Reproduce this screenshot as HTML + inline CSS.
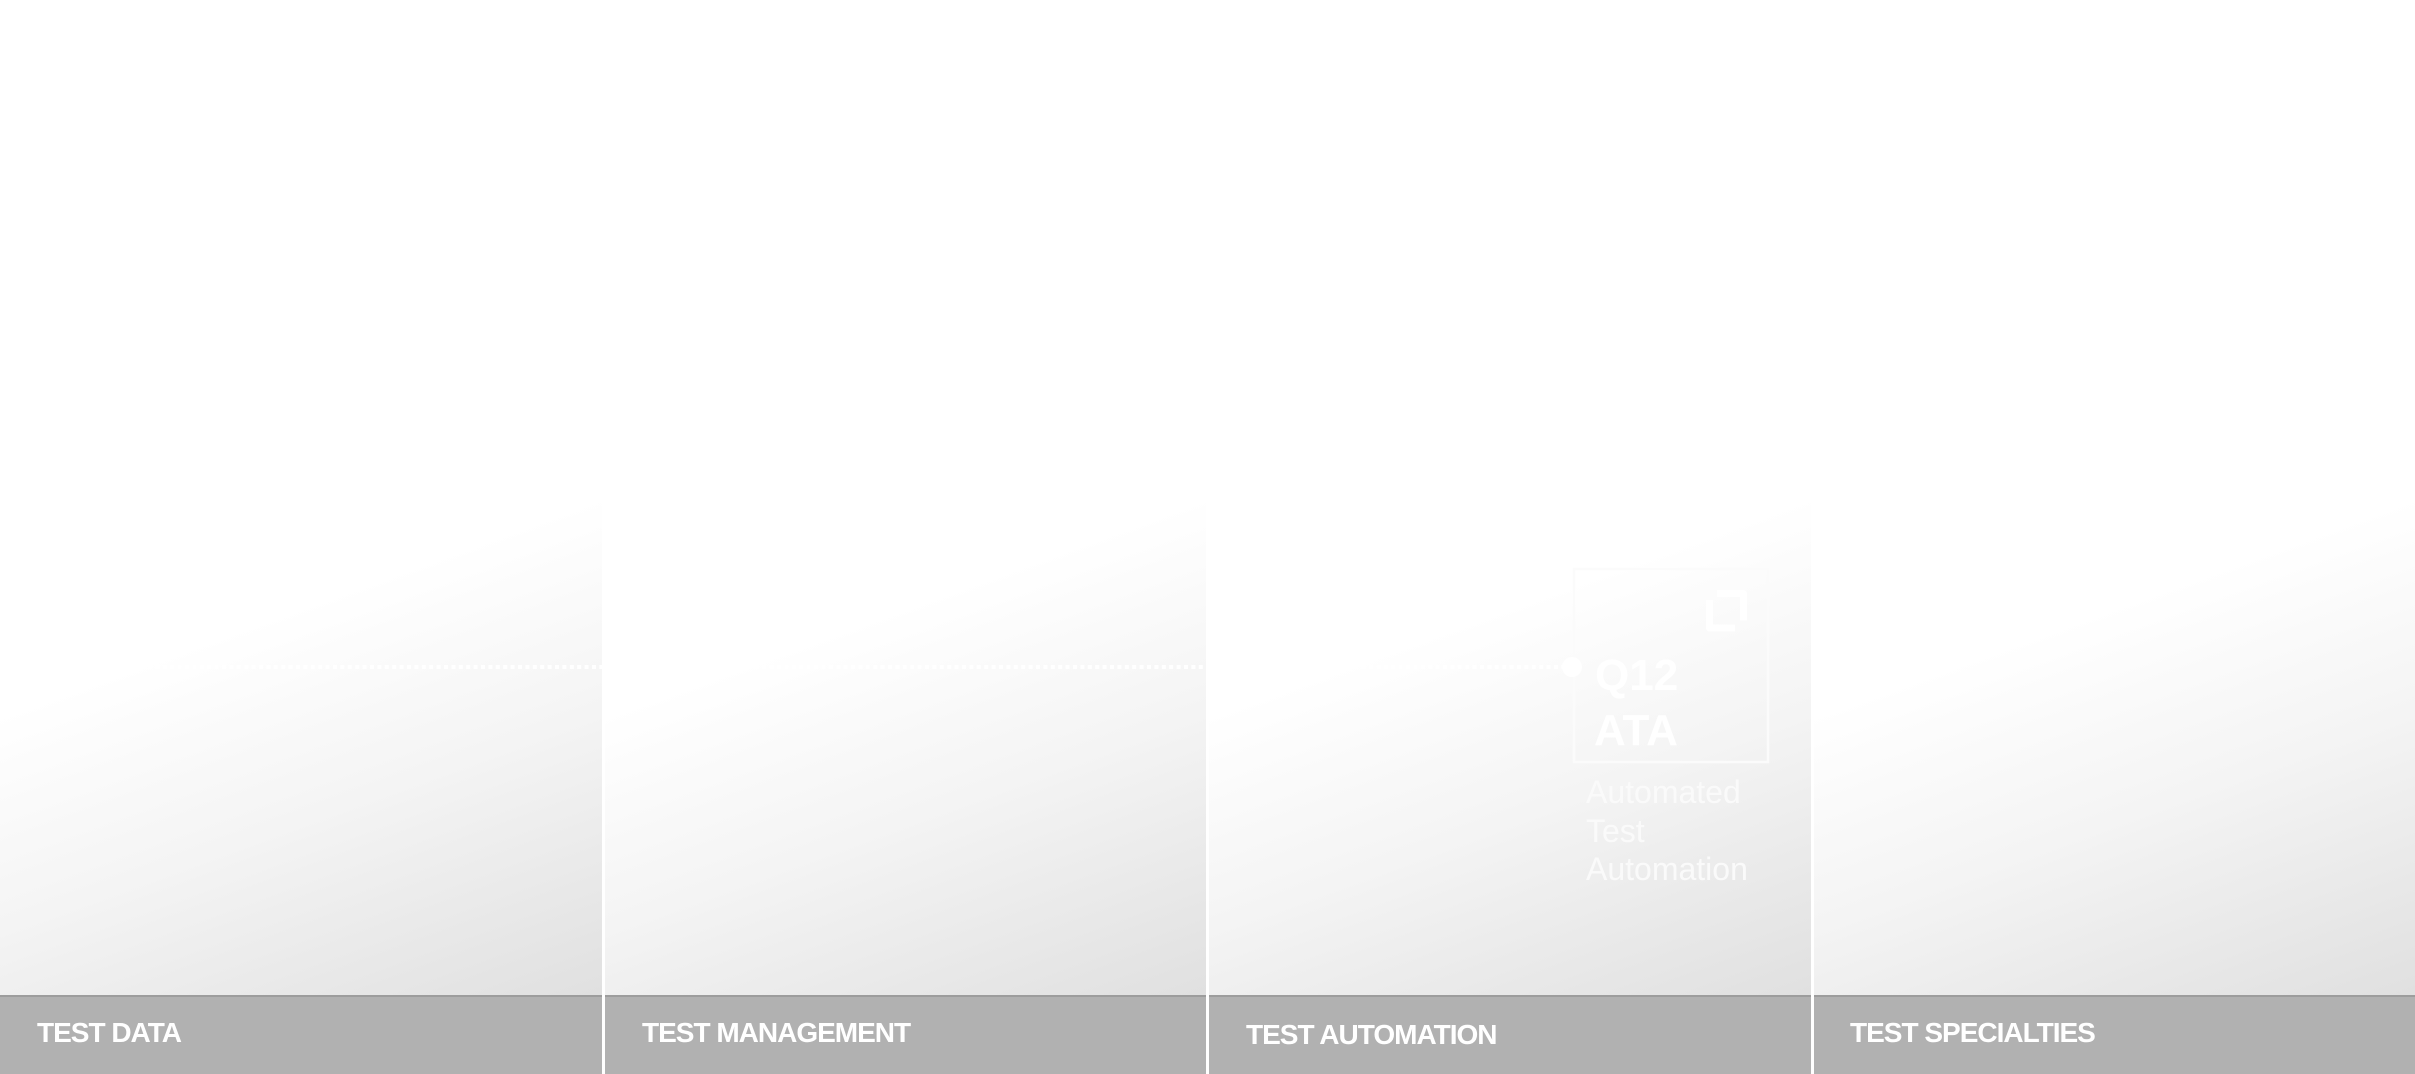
<!DOCTYPE html>
<html>
<head>
<meta charset="utf-8">
<style>
  html, body { margin:0; padding:0; }
  body { width:2415px; height:1074px; background:#ffffff; position:relative; overflow:hidden;
         font-family:"Liberation Sans", sans-serif; }
  .col { position:absolute; top:503px; height:492px;
         background:linear-gradient(160deg, #ffffff 0%, #ffffff 30%, #f4f4f4 60%, #e0e0e0 100%); }
  .bar { position:absolute; top:995px; height:79px; background:#b1b1b1; border-top:2px solid #9d9d9d; box-sizing:border-box; }
  .bar span { position:absolute; left:37px; top:20px; color:#ffffff; font-weight:bold; font-size:28px;
              letter-spacing:-1px; line-height:32px; white-space:nowrap; }
  svg { position:absolute; left:0; top:0; }
</style>
</head>
<body>
  <div class="col" style="left:0;width:602px;"></div>
  <div class="col" style="left:605px;width:601px;"></div>
  <div class="col" style="left:1209px;width:602px;"></div>
  <div class="col" style="left:1814px;width:601px;"></div>

  <div class="bar" style="left:0;width:602px;"><span>TEST DATA</span></div>
  <div class="bar" style="left:605px;width:601px;"><span>TEST MANAGEMENT</span></div>
  <div class="bar" style="left:1209px;width:602px;"><span style="top:22px">TEST AUTOMATION</span></div>
  <div class="bar" style="left:1814px;width:601px;"><span style="left:36px">TEST SPECIALTIES</span></div>

  <svg width="2415" height="1074" viewBox="0 0 2415 1074" xmlns="http://www.w3.org/2000/svg">
    <!-- dotted connector -->
    <line x1="0" y1="667" x2="1565" y2="667" stroke="#ffffff" stroke-width="4" stroke-dasharray="4 3.4"/>
    <!-- node box -->
    <rect x="1574" y="569" width="194" height="193" fill="none" stroke="#fbfbfb" stroke-width="2.5"/>
    <circle cx="1572" cy="667" r="10" fill="#ffffff"/>
    <!-- icon -->
    <path d="M1717 593.5 H1743.5 V620.5" fill="none" stroke="#ffffff" stroke-width="7" stroke-linejoin="round"/>
    <path d="M1709.5 600 V628 H1735" fill="none" stroke="#ffffff" stroke-width="7" stroke-linejoin="round"/>
    <!-- node title -->
    <text x="1595" y="690" font-family="Liberation Sans, sans-serif" font-weight="bold" font-size="44" fill="#ffffff">Q12</text>
    <text x="1594" y="745" font-family="Liberation Sans, sans-serif" font-weight="bold" font-size="44" fill="#ffffff">ATA</text>
    <!-- description -->
    <text font-family="Liberation Sans, sans-serif" font-size="32" fill="#fafafa">
      <tspan x="1586" y="803">Automated</tspan>
      <tspan x="1586" y="842">Test</tspan>
      <tspan x="1586" y="880">Automation</tspan>
    </text>
  </svg>
</body>
</html>
